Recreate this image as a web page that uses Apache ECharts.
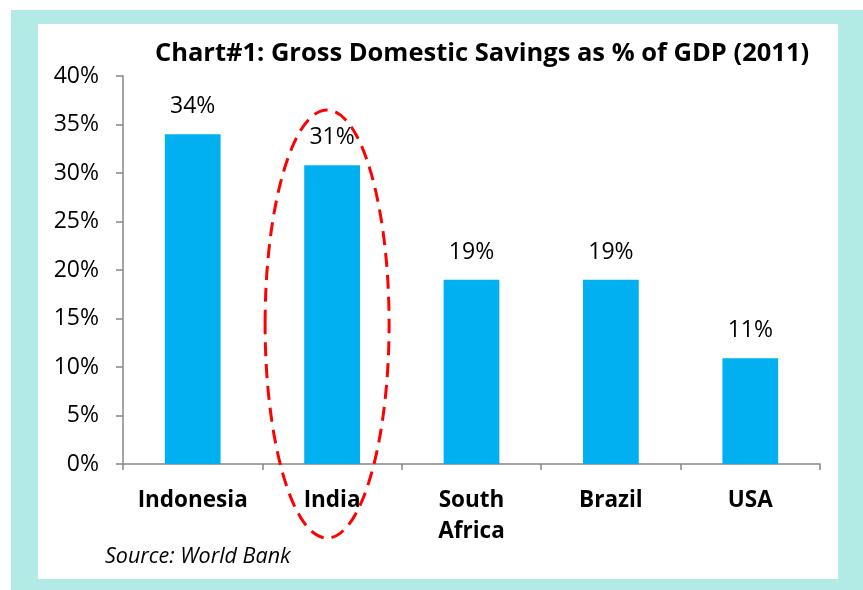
<!DOCTYPE html>
<html><head><meta charset="utf-8">
<script src="https://cdn.jsdelivr.net/npm/echarts@6/dist/echarts.min.js"></script>
<style>html,body{margin:0;padding:0;background:#fff}#c{width:863px;height:590px}</style>
</head><body><div id="c"></div>
<script>
const categories = ['Indonesia', 'India', 'South\nAfrica', 'Brazil', 'USA'];
const savingsPct = [34.0, 30.8, 19.0, 19.0, 10.9];
const yTicks = [0, 5, 10, 15, 20, 25, 30, 35, 40];
const titleText = 'Chart#1: Gross Domestic Savings as % of GDP (2011)';
const sourceText = 'Source: World Bank';
const highlightCategory = 'India';

(function () {
const FONT = '"Open Sans", Lato, sans-serif';
const chart = echarts.init(document.getElementById('c'), null, {renderer: 'canvas'});
const option = {
  backgroundColor: '#ffffff',
  animation: false,
  title: {
    text: titleText, left: 477, top: 36, textAlign: 'center',
    textStyle: {fontFamily: FONT, fontSize: 25.5, fontWeight: 'bold', color: '#000'}
  },
  grid: {left: 123, right: 43, top: 76, bottom: 126},
  xAxis: {
    type: 'category', data: categories,
    axisLine: {lineStyle: {color: '#868686', width: 1.5}},
    axisTick: {show: true, length: 6, lineStyle: {color: '#868686', width: 1.5}},
    axisLabel: {interval: 0, hideOverlap: false, fontFamily: FONT, fontSize: 22.5, fontWeight: 'bold', color: '#000', margin: 21, lineHeight: 31}
  },
  yAxis: {
    type: 'value', min: yTicks[0], max: yTicks[yTicks.length - 1], interval: 5,
    axisLine: {show: true, lineStyle: {color: '#868686', width: 1.5}},
    axisTick: {show: true, length: 7, lineStyle: {color: '#868686', width: 1.5}},
    splitLine: {show: false},
    axisLabel: {fontFamily: FONT, fontSize: 23, color: '#000', margin: 24, formatter: v => v + '%'}
  },
  series: [{
    type: 'bar', data: savingsPct, barWidth: '40%',
    itemStyle: {color: '#00b0f0'},
    label: {show: true, position: 'top', distance: 16, fontFamily: FONT, fontSize: 23, color: '#000',
      formatter: p => Math.round(p.value) + '%'}
  }]
};
chart.setOption(option);

const basePx = chart.convertToPixel({gridIndex: 0}, [highlightCategory, 0]);
const topPx = chart.convertToPixel({gridIndex: 0}, [highlightCategory, 36.5]);
const bottomY = basePx[1] + 74;
const cx = basePx[0] - 5, cy = (topPx[1] + bottomY) / 2, ry = (bottomY - topPx[1]) / 2;

chart.setOption({
  graphic: [
    {type: 'rect', z: -10, silent: true, shape: {x: 11, y: 10, width: 852, height: 580}, style: {fill: '#b2eae5'}},
    {type: 'rect', z: -9, silent: true, shape: {x: 38, y: 24, width: 800, height: 555}, style: {fill: '#ffffff'}},
    {type: 'text', left: 105, top: 546, style: {text: sourceText, fontFamily: FONT, fontSize: 21.5, fontStyle: 'italic', fill: '#000'}},
    {type: 'ellipse', z: 100, silent: true, shape: {cx: cx, cy: cy, rx: 62, ry: ry},
      style: {fill: 'none', stroke: '#ff0000', lineWidth: 3, lineDash: [14, 8]}}
  ]
});
})();
</script></body></html>
